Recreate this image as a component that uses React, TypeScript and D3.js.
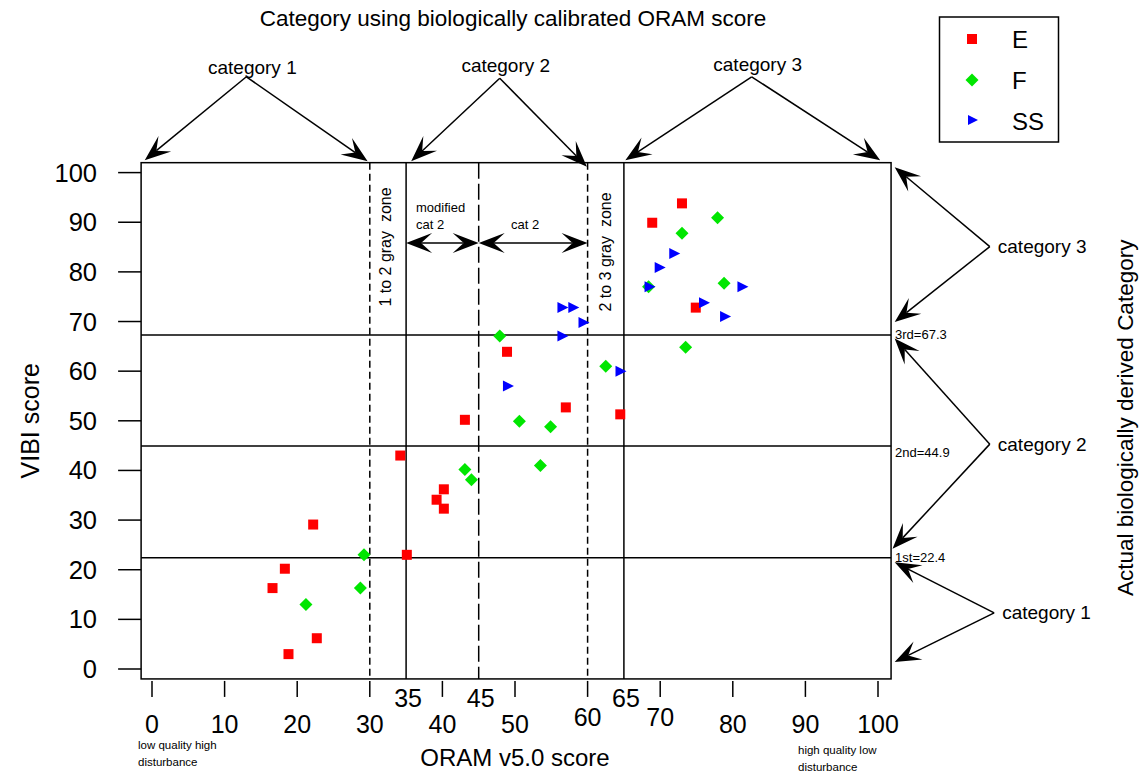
import * as d3 from "d3";

// ORAM v5.0 score (x) vs VIBI score (y)
const seriesE: [number, number][] = [
  [16.6, 16.3], [18.3, 20.2], [18.8, 3.0], [22.2, 29.1], [22.7, 6.2],
  [34.2, 43.0], [35.1, 23.0], [39.2, 34.1], [40.2, 36.2], [40.2, 32.3],
  [43.1, 50.2], [48.9, 63.9], [57.0, 52.7], [64.5, 51.3], [68.9, 89.9],
  [73.0, 93.8], [74.9, 72.8],
];
const seriesF: [number, number][] = [
  [21.2, 13.0], [28.7, 16.3], [29.2, 23.0], [43.1, 40.2], [44.0, 38.1],
  [47.9, 67.1], [50.6, 49.9], [53.5, 41.0], [54.9, 48.8], [62.5, 61.0],
  [68.4, 77.0], [73.0, 87.8], [73.5, 64.8], [77.9, 90.9], [78.8, 77.7],
];
const seriesSS: [number, number][] = [
  [49.1, 57.0], [56.6, 72.8], [58.1, 72.8], [59.5, 69.8], [56.6, 67.1],
  [64.6, 60.0], [68.6, 77.0], [70.0, 80.9], [72.0, 83.7], [76.1, 73.8],
  [79.0, 71.0], [81.4, 77.0],
];

const yTicks = [0, 10, 20, 30, 40, 50, 60, 70, 80, 90, 100];
const xTicks = [0, 10, 20, 30, 40, 50, 60, 70, 80, 90, 100];
const xLabelsLow = [0, 10, 20, 30, 40, 50, 80, 90, 100];
const xLabelsMid = [60, 70];
const xLabelsHigh = [35, 45, 65];

const cutoffs = [22.4, 44.9, 67.3];
const cutoffLabels = ["1st=22.4", "2nd=44.9", "3rd=67.3"];
const solidVerticals = [35, 65];
const dashedVerticals = [30, 60];
const longDashVerticals = [45];

// annotation arrows, apex and tips in data units
const topArrows = [
  { label: "category 1", apex: [13, 119.3], tips: [[-1, 102.5], [29.7, 102.3]], dy: -9 },
  { label: "category 2", apex: [47.9, 119], tips: [[35.7, 102.3], [59.9, 101.2]], dy: -13 },
  { label: "category 3", apex: [82.6, 119.3], tips: [[65.2, 102.5], [100.3, 102.5]], dy: -12 },
];
const rightArrows = [
  { label: "category 3", apex: [115.4, 85.1], tips: [[102.3, 101.1], [102.3, 69.9]], dy: 0 },
  { label: "category 2", apex: [115.4, 45.3], tips: [[102.3, 66.6], [102.0, 24.2]], dy: 0 },
  { label: "category 1", apex: [116.0, 11.3], tips: [[102.3, 21.5], [102.3, 1.4]], dy: 0 },
];

const legendItems = ["E", "F", "SS"];

function arrow(x1: number, y1: number, x2: number, y2: number, L = 26, W = 10, N = 15) {
  const dx = x2 - x1, dy = y2 - y1;
  const len = Math.hypot(dx, dy);
  const ux = dx / len, uy = dy / len;
  const nx = -uy, ny = ux;
  const bx = x2 - L * ux, by = y2 - L * uy;
  const head = [
    [x2, y2],
    [bx + W * nx, by + W * ny],
    [x2 - N * ux, y2 - N * uy],
    [bx - W * nx, by - W * ny],
  ];
  return {
    line: `M${x1},${y1}L${x2 - N * ux},${y2 - N * uy}`,
    head: "M" + head.map((p) => p.join(",")).join("L") + "Z",
  };
}

function Square({ cx, cy, s = 10 }: { cx: number; cy: number; s?: number }) {
  return <rect x={cx - s / 2} y={cy - s / 2} width={s} height={s} fill="#ff0000" />;
}
function Diamond({ cx, cy, r = 6.5 }: { cx: number; cy: number; r?: number }) {
  return <path d={`M${cx},${cy - r}L${cx + r},${cy}L${cx},${cy + r}L${cx - r},${cy}Z`} fill="#00e600" />;
}
function Tri({ cx, cy, h = 5.5 }: { cx: number; cy: number; h?: number }) {
  return <path d={`M${cx - h},${cy - h}L${cx + h},${cy}L${cx - h},${cy + h}Z`} fill="#0000ff" />;
}

export default function App() {
  const width = 1145, height = 773;
  const x = d3.scaleLinear([0, 100], [152, 878]);
  const y = d3.scaleLinear([0, 100], [669, 172.6]);
  const bx0 = x(-1.5), bx1 = x(101.8), by0 = y(102), by1 = y(-2);
  const font = "Liberation Sans, Arial, sans-serif";
  const sw = 1.5;

  const arrowEls = (set: typeof topArrows) =>
    set.flatMap((a, i) =>
      a.tips.map((t, j) => {
        const p = arrow(x(a.apex[0]), y(a.apex[1]), x(t[0]), y(t[1]));
        return (
          <g key={`${i}-${j}`}>
            <path d={p.line} stroke="black" strokeWidth={1.5} fill="none" />
            <path d={p.head} fill="black" />
          </g>
        );
      })
    );

  const dbl = (xa: number, xb: number, yy: number) => {
    const a = arrow(xb, yy, xa, yy, 26, 10, 15);
    const b = arrow(xa, yy, xb, yy, 26, 10, 15);
    return (
      <g>
        <path d={`M${xa + 15},${yy}L${xb - 15},${yy}`} stroke="black" strokeWidth={1.5} />
        <path d={a.head} fill="black" />
        <path d={b.head} fill="black" />
      </g>
    );
  };

  return (
    <svg width={width} height={height} style={{ position: "absolute", left: 0, top: 0, background: "white" }} fontFamily={font}>
      <text x={x(50) - 2} y={18} fontSize={22.5} textAnchor="middle" dominantBaseline="central">
        Category using biologically calibrated ORAM score
      </text>

      {/* plot box */}
      <rect x={bx0} y={by0} width={bx1 - bx0} height={by1 - by0} fill="none" stroke="black" strokeWidth={sw} />

      {/* y axis */}
      {yTicks.map((t) => (
        <g key={t}>
          <line x1={bx0 - 23} x2={bx0} y1={y(t)} y2={y(t)} stroke="black" strokeWidth={sw} />
          <text x={97} y={y(t)} fontSize={25.5} textAnchor="end" dominantBaseline="central">{t}</text>
        </g>
      ))}
      <text transform={`translate(30,${y(50)}) rotate(-90)`} fontSize={25} textAnchor="middle" dominantBaseline="central">
        VIBI score
      </text>

      {/* x axis */}
      {xTicks.map((t) => (
        <line key={t} x1={x(t)} x2={x(t)} y1={by1 + 2} y2={by1 + 18} stroke="black" strokeWidth={sw} />
      ))}
      {xLabelsLow.map((t) => (
        <text key={t} x={x(t)} y={724} fontSize={25} textAnchor="middle" dominantBaseline="central">{t}</text>
      ))}
      {xLabelsMid.map((t) => (
        <text key={t} x={x(t)} y={717} fontSize={25} textAnchor="middle" dominantBaseline="central">{t}</text>
      ))}
      {xLabelsHigh.map((t) => (
        <text key={t} x={x(t) + 2} y={698} fontSize={25} textAnchor="middle" dominantBaseline="central">{t}</text>
      ))}
      <text x={x(50)} y={757} fontSize={24} textAnchor="middle" dominantBaseline="central">ORAM v5.0 score</text>
      <text x={138} y={745} fontSize={11.5} dominantBaseline="central">low quality high</text>
      <text x={138} y={762} fontSize={11.5} dominantBaseline="central">disturbance</text>
      <text x={798} y={750} fontSize={11.5} dominantBaseline="central">high quality low</text>
      <text x={798} y={767} fontSize={11.5} dominantBaseline="central">disturbance</text>

      {/* cutoff lines */}
      {cutoffs.map((c, i) => (
        <g key={c}>
          <line x1={bx0} x2={bx1} y1={y(c)} y2={y(c)} stroke="black" strokeWidth={sw} />
          <text x={bx1 + 4} y={y(c) + (i === 1 ? 6 : 0)} fontSize={13} dominantBaseline="central">{cutoffLabels[i]}</text>
        </g>
      ))}
      {solidVerticals.map((v) => (
        <line key={v} x1={x(v)} x2={x(v)} y1={by0} y2={by1} stroke="black" strokeWidth={sw} />
      ))}
      {dashedVerticals.map((v) => (
        <line key={v} x1={x(v)} x2={x(v)} y1={by0} y2={by1} stroke="black" strokeWidth={sw} strokeDasharray="7,4" />
      ))}
      {longDashVerticals.map((v) => (
        <line key={v} x1={x(v)} x2={x(v)} y1={by0} y2={by1} stroke="black" strokeWidth={sw} strokeDasharray="16,5" />
      ))}

      {/* gray zone labels */}
      <text transform={`translate(${x(32.2)},${247}) rotate(-90)`} fontSize={16} textAnchor="middle" dominantBaseline="central" style={{ whiteSpace: "pre" }}>
        {"1 to 2 gray  zone"}
      </text>
      <text transform={`translate(${x(62.4)},${252}) rotate(-90)`} fontSize={16} textAnchor="middle" dominantBaseline="central" style={{ whiteSpace: "pre" }}>
        {"2 to 3 gray  zone"}
      </text>
      <text x={416} y={207} fontSize={13} dominantBaseline="central">modified</text>
      <text x={416} y={224} fontSize={13} dominantBaseline="central">cat 2</text>
      <text x={511} y={224} fontSize={13} dominantBaseline="central">cat 2</text>
      {dbl(x(35), x(45), 243)}
      {dbl(x(45), x(60), 243)}

      {/* category arrows */}
      {arrowEls(topArrows)}
      {arrowEls(rightArrows)}
      {topArrows.map((a) => (
        <text key={a.label} x={x(a.apex[0]) + 6} y={y(a.apex[1]) + a.dy} fontSize={19} textAnchor="middle" dominantBaseline="central">
          {a.label}
        </text>
      ))}
      {rightArrows.map((a, i) => (
        <text key={i} x={x(a.apex[0]) + 8} y={y(a.apex[1]) + a.dy} fontSize={19} dominantBaseline="central">
          {a.label}
        </text>
      ))}
      <text transform={`translate(1125,${y(50) - 3}) rotate(-90)`} fontSize={22.5} textAnchor="middle" dominantBaseline="central">
        Actual biologically derived Category
      </text>

      {/* points */}
      {seriesE.map((d, i) => <Square key={"e" + i} cx={x(d[0])} cy={y(d[1])} />)}
      {seriesF.map((d, i) => <Diamond key={"f" + i} cx={x(d[0])} cy={y(d[1])} />)}
      {seriesSS.map((d, i) => <Tri key={"s" + i} cx={x(d[0])} cy={y(d[1])} />)}

      {/* legend */}
      <rect x={939.5} y={17} width={119} height={125} fill="white" stroke="black" strokeWidth={sw} />
      <Square cx={972} cy={39} s={10} />
      <Diamond cx={972} cy={80} r={6.5} />
      <Tri cx={973} cy={120} h={5} />
      {legendItems.map((l, i) => (
        <text key={l} x={1012} y={39 + i * 41} fontSize={24} dominantBaseline="central">{l}</text>
      ))}
    </svg>
  );
}
